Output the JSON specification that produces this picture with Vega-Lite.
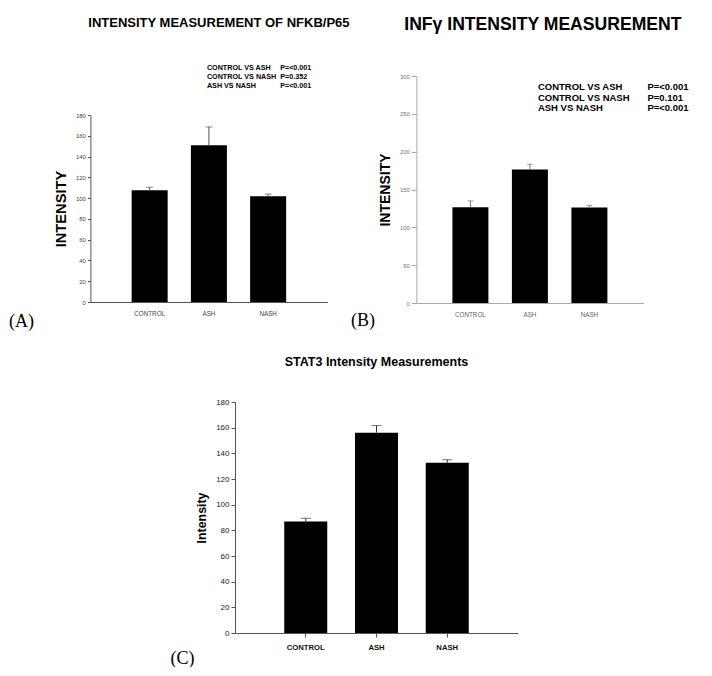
{
  "$schema": "https://vega.github.io/schema/vega-lite/v6.json",
  "padding": {"left": 8, "top": 16, "right": 0, "bottom": 0},
  "background": "white",
  "config": {"view": {"stroke": null}, "font": "Liberation Sans", "axis": {"grid": false, "labelOverlap": false, "labelFlush": false}},
  "spacing": 25,
  "center": true,
  "vconcat": [
    {
      "spacing": 0,
      "hconcat": [
        {
          "width": 237,
          "height": 226,
          "title": {"text": "INTENSITY MEASUREMENT OF NFKB/P65", "fontSize": 13, "fontWeight": "bold", "color": "black", "frame": "group", "anchor": "middle", "dx": 10, "offset": 34},
          "data": {"values": [
            {"group": "CONTROL", "intensity": 107.5, "upper": 110.5},
            {"group": "ASH", "intensity": 151, "upper": 168.5},
            {"group": "NASH", "intensity": 101.8, "upper": 103.8}
          ]},
          "encoding": {
            "x": {"field": "group", "type": "nominal", "sort": null,
              "scale": {"paddingInner": 0.392, "paddingOuter": 0.696},
              "axis": {"title": "(A)", "labelAngle": 0, "labelFontSize": 6.3, "labelColor": "#444", "ticks": false, "domainColor": "#555", "labelPadding": 8,
                "titleFont": "Liberation Serif", "titleFontSize": 18, "titleFontWeight": "normal", "titleColor": "black", "titleAnchor": "start", "titleAlign": "left", "titleX": -82, "titleY": 24, "titleBaseline": "alphabetic"}}
          },
          "layer": [
            {"mark": {"type": "bar", "color": "black"},
              "encoding": {"y": {"field": "intensity", "type": "quantitative", "title": "INTENSITY", "scale": {"domain": [0, 180], "range": [226, 39]},
                "axis": {"title": "INTENSITY", "values": [0, 20, 40, 60, 80, 100, 120, 140, 160, 180], "tickCount": 20, "labelOverlap": false, "labelFontSize": 6, "labelColor": "#444", "tickSize": 3, "tickColor": "#555", "domainColor": "#555", "labelPadding": 2,
                  "titleFontSize": 14.7, "titleFontWeight": "bold", "titleColor": "black", "titlePadding": 7}}}},
            {"mark": {"type": "rule", "color": "#555", "strokeWidth": 1},
              "encoding": {"y": {"field": "intensity", "type": "quantitative", "title": "INTENSITY"}, "y2": {"field": "upper"}}},
            {"mark": {"type": "tick", "color": "#555", "size": 7, "thickness": 1},
              "encoding": {"y": {"field": "upper", "type": "quantitative", "title": "INTENSITY"}}},
            {"data": {"values": [{}]},
              "mark": {"type": "text", "text": ["CONTROL VS ASH", "CONTROL VS NASH", "ASH VS NASH"], "align": "left", "baseline": "middle", "fontSize": 7.2, "fontWeight": "bold", "lineHeight": 9, "dx": -2, "color": "black"},
              "encoding": {"x": {"datum": "ASH"}, "y": {"datum": 225, "title": "INTENSITY"}}},
            {"data": {"values": [{}]},
              "mark": {"type": "text", "text": ["P=<0.001", "P=0.352", "P=<0.001"], "align": "left", "baseline": "middle", "fontSize": 7.2, "fontWeight": "bold", "lineHeight": 9, "dx": 12, "color": "black"},
              "encoding": {"x": {"datum": "NASH"}, "y": {"datum": 225, "title": "INTENSITY"}}}
          ]
        },
        {
          "width": 227,
          "height": 227,
          "title": {"text": "INFγ INTENSITY MEASUREMENT", "fontSize": 17.6, "fontWeight": "bold", "color": "black", "frame": "group", "anchor": "middle", "dx": 13, "offset": 39},
          "data": {"values": [
            {"group": "CONTROL", "intensity": 126.6, "upper": 135},
            {"group": "ASH", "intensity": 176.3, "upper": 183.3},
            {"group": "NASH", "intensity": 126.2, "upper": 128.8}
          ]},
          "encoding": {
            "x": {"field": "group", "type": "nominal", "sort": null,
              "scale": {"paddingInner": 0.395, "paddingOuter": 0.605},
              "axis": {"title": "(B)", "labelAngle": 0, "labelFontSize": 6.3, "labelColor": "#666", "ticks": false, "domainColor": "#aaa", "labelPadding": 8,
                "titleFont": "Liberation Serif", "titleFontSize": 18, "titleFontWeight": "normal", "titleColor": "black", "titleAnchor": "start", "titleAlign": "left", "titleX": -66, "titleY": 22, "titleBaseline": "alphabetic"}}
          },
          "layer": [
            {"mark": {"type": "bar", "color": "black"},
              "encoding": {"y": {"field": "intensity", "type": "quantitative", "title": "INTENSITY", "scale": {"domain": [0, 300]},
                "axis": {"title": "INTENSITY", "values": [0, 50, 100, 150, 200, 250, 300], "tickCount": 20, "labelOverlap": false, "labelFontSize": 6, "labelColor": "#777", "tickSize": 5, "tickColor": "#aaa", "domainColor": "#aaa", "labelPadding": 2,
                  "titleFontSize": 14, "titleFontWeight": "bold", "titleColor": "black", "titlePadding": 7}}}},
            {"mark": {"type": "rule", "color": "#777", "strokeWidth": 1},
              "encoding": {"y": {"field": "intensity", "type": "quantitative", "title": "INTENSITY"}, "y2": {"field": "upper"}}},
            {"mark": {"type": "tick", "color": "#777", "size": 6, "thickness": 1},
              "encoding": {"y": {"field": "upper", "type": "quantitative", "title": "INTENSITY"}}},
            {"data": {"values": [{}]},
              "mark": {"type": "text", "text": ["CONTROL VS ASH", "CONTROL VS NASH", "ASH VS NASH"], "align": "left", "baseline": "middle", "fontSize": 9.5, "fontWeight": "bold", "lineHeight": 10.5, "dx": 8, "color": "black"},
              "encoding": {"x": {"datum": "ASH"}, "y": {"datum": 285, "title": "INTENSITY"}}},
            {"data": {"values": [{}]},
              "mark": {"type": "text", "text": ["P=<0.001", "P=0.101", "P=<0.001"], "align": "left", "baseline": "middle", "fontSize": 9.5, "fontWeight": "bold", "lineHeight": 10.5, "dx": 58, "color": "black"},
              "encoding": {"x": {"datum": "NASH"}, "y": {"datum": 285, "title": "INTENSITY"}}}
          ]
        }
      ]
    },
    {
      "width": 309,
      "height": 231,
      "title": {"text": "STAT3 Intensity Measurements", "fontSize": 12.5, "fontWeight": "bold", "color": "black", "frame": "group", "anchor": "middle", "dx": -13, "offset": 30},
      "data": {"values": [
        {"group": "CONTROL", "intensity": 86.8, "upper": 89.4},
        {"group": "ASH", "intensity": 156.1, "upper": 161.6},
        {"group": "NASH", "intensity": 132.7, "upper": 135}
      ]},
      "encoding": {
        "x": {"field": "group", "type": "nominal", "sort": null,
          "scale": {"paddingInner": 0.392, "paddingOuter": 0.696, "range": [0, 283]},
          "axis": {"title": "(C)", "labelAngle": 0, "labelFontSize": 7.7, "labelFontWeight": "bold", "labelColor": "#111", "ticks": true, "tickSize": 4, "tickColor": "#555", "domainColor": "#555", "labelPadding": 6,
            "titleFont": "Liberation Serif", "titleFontSize": 18, "titleFontWeight": "normal", "titleColor": "black", "titleAnchor": "start", "titleAlign": "left", "titleX": -65, "titleY": 30, "titleBaseline": "alphabetic"}}
      },
      "layer": [
        {"mark": {"type": "bar", "color": "black"},
          "encoding": {"y": {"field": "intensity", "type": "quantitative", "title": "Intensity", "scale": {"domain": [0, 180]},
            "axis": {"title": "Intensity", "values": [0, 20, 40, 60, 80, 100, 120, 140, 160, 180], "tickCount": 20, "labelOverlap": false, "labelFontSize": 8, "labelColor": "#222", "tickSize": 4, "tickColor": "#555", "domainColor": "#555", "labelPadding": 2,
              "titleFontSize": 12.4, "titleFontWeight": "bold", "titleColor": "black", "titlePadding": 7}}}},
        {"mark": {"type": "rule", "color": "#333", "strokeWidth": 1},
          "encoding": {"y": {"field": "intensity", "type": "quantitative", "title": "Intensity"}, "y2": {"field": "upper"}}},
        {"mark": {"type": "tick", "color": "#333", "size": 10, "thickness": 1},
          "encoding": {"y": {"field": "upper", "type": "quantitative", "title": "Intensity"}}}
      ]
    }
  ]
}
